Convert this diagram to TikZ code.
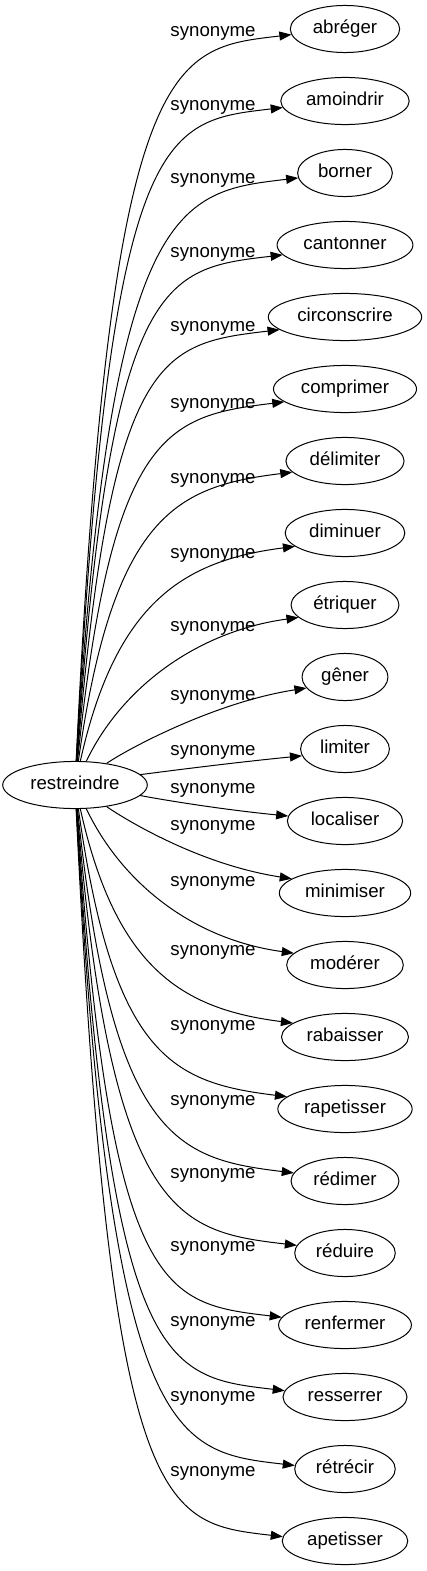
\documentclass[tikz,border=0pt]{standalone}
\usepackage{fontspec}
\setmainfont{Liberation Sans}
\usetikzlibrary{shapes.geometric,arrows.meta,calc}

\begin{document}
\begin{tikzpicture}[x=1pt,y=-1pt,
  every node/.style={font=\fontsize{18.67}{22}\selectfont},
  word/.style={ellipse,draw,line width=1pt,inner xsep=6.5pt,inner ysep=7.9pt,text height=13.5pt,text depth=4pt},
  lab/.style={inner sep=0pt},
  syn/.style={line width=1pt,-{Triangle[length=12pt,width=9pt]}}]

  \useasboundingbox (0,0) rectangle (426,1571);

  \node[word] (root) at (75,785) {restreindre};

  % mot / nom / hauteur du label / point d'arrivee
  \foreach \txt/\nm/\ly/\ang [count=\i from 0] in {
      abréger/abreger/33/186, amoindrir/amoindrir/107/186, borner/borner/180/186,
      cantonner/cantonner/254/189, circonscrire/circonscrire/328/191,
      comprimer/comprimer/405/192, délimiter/delimiter/480/192,
      diminuer/diminuer/555/195, étriquer/etriquer/628/195, gêner/gener/697/196,
      limiter/limiter/752/189, localiser/localiser/790/175,
      minimiser/minimiser/827/165, modérer/moderer/883/167,
      rabaisser/rabaisser/952/165, rapetisser/rapetisser/1027/168,
      rédimer/redimer/1102/171, réduire/reduire/1175/171,
      renfermer/renfermer/1248/173, resserrer/resserrer/1323/174,
      rétrécir/retrecir/1398/176, apetisser/apetisser/1473/176}{
    \pgfmathsetmacro\yt{29+72*\i}
    \pgfmathsetmacro\sgn{\yt<785 ? 1 : -1}
    \pgfmathsetmacro\dist{abs(785-\yt)}
    \pgfmathsetmacro\rat{\dist/180}
    \pgfmathsetmacro\fr{\rat*\rat*\rat/(\rat*\rat*\rat+1)}
    \pgfmathsetmacro\hh{min(1,max(0,(\dist-36)/72))}
    \pgfmathsetmacro\cx{110+22*(1-\fr)}
    \pgfmathsetmacro\cy{785-\sgn*max(23*\hh+\fr*(\dist-10-23*\hh),0.35*(\dist-10))}
    \pgfmathsetmacro\cdx{-(85+35*\fr)}
    \pgfmathsetmacro\dv{\sgn*14*min(1,\dist/60)}
    \node[word] (\nm) at (345,\yt) {\txt};
    \draw[syn] (root) .. controls (\cx,\cy) and ($(\nm.\ang)+(\cdx,\dv)$) .. (\nm.\ang);
    \node[lab] (l\i) at (213,\ly) {synonyme};
  }
\end{tikzpicture}
\end{document}
